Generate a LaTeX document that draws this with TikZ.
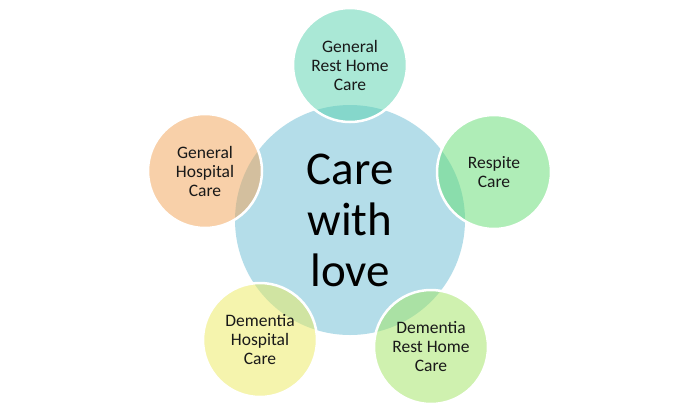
\documentclass[tikz,border=0pt]{standalone}
\usepackage{fontspec}
\setmainfont{Carlito}
\definecolor{hubblue}{RGB}{180,221,233}
\definecolor{cmint}{RGB}{87,211,175}
\definecolor{cgreen}{RGB}{97,221,113}
\definecolor{clime}{RGB}{161,229,97}
\definecolor{cyellow}{RGB}{237,235,93}
\definecolor{cpeach}{RGB}{243,163,85}
\tikzset{
  hub/.style={circle, fill=hubblue, minimum size=230pt, inner sep=0pt, align=center,
    font=\fontsize{47}{51}\selectfont, text=black},
  sat/.style={circle, fill=#1, fill opacity=0.5, text opacity=1, draw=white, draw opacity=1,
    line width=2.5pt, minimum size=114pt, inner sep=0pt, align=center,
    font=\fontsize{17.5}{19}\selectfont, text=black!90}
}
\begin{document}
\begin{tikzpicture}[x=1pt,y=-1pt]
\useasboundingbox[fill=white] (0,0) rectangle (700,410);
\node[hub] (hub) at (350,220) {Care\\with\\love};
\node[sat=cmint] (top) at (350,65) {General\\Rest Home\\Care};
\node[sat=cgreen] (right) at (494,172) {Respite\\Care};
\node[sat=clime] (br) at (431,347) {Dementia\\Rest Home\\Care};
\node[sat=cyellow] (bl) at (260,340) {Dementia\\Hospital\\Care};
\node[sat=cpeach] (left) at (205,171) {General\\Hospital\\Care};
\end{tikzpicture}
\end{document}
